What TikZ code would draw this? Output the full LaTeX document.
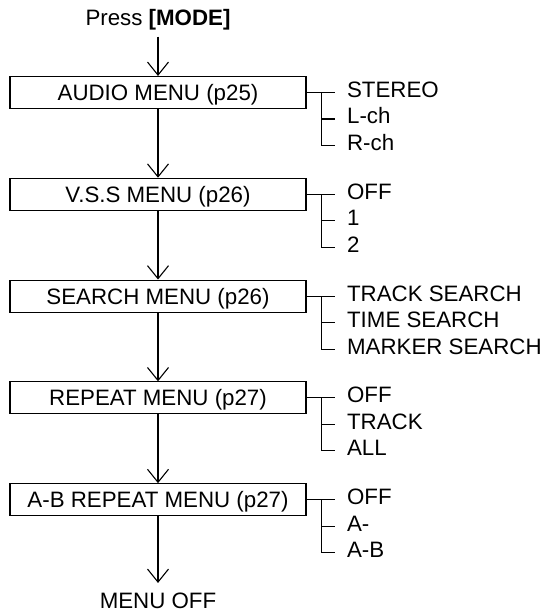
\documentclass[tikz,border=0pt]{standalone}
\usepackage{fontspec}
\setmainfont{Liberation Sans}
\usetikzlibrary{arrows.meta, positioning}

\begin{document}
\begin{tikzpicture}[
    every node/.style={font=\fontsize{11.15pt}{13pt}\selectfont},
    line width=0.55pt,
    node distance=34.35pt,
    box/.style={rectangle, draw, minimum width=148pt, minimum height=16pt, inner sep=0pt, text height=8pt, text depth=0pt},
    opt/.style={anchor=west, inner xsep=6pt, inner ysep=0pt, text height=6.5pt, text depth=1.5pt},
    endtext/.style={inner xsep=0pt, text height=8pt, text depth=0pt},
    arrow/.style={-{Straight Barb[length=6.5pt, width=10.5pt]}}
  ]

  \useasboundingbox (0,0) rectangle (278pt,-306.5pt);

  % menu chain
  \node[box] (audio) at (79pt,-46.25pt) {AUDIO MENU (p25)};
  \node[box, below=of audio] (vss) {V.S.S MENU (p26)};
  \node[box, below=of vss] (search) {SEARCH MENU (p26)};
  \node[box, below=of search] (repeat) {REPEAT MENU (p27)};
  \node[box, below=of repeat] (abrepeat) {A-B REPEAT MENU (p27)};

  \node[endtext, inner ysep=5.1pt, above=19.65pt of audio] (press) {Press \textbf{[MODE]}};
  \node[endtext, inner ysep=4.25pt, below=33.35pt of abrepeat] (menuoff) {MENU OFF};

  \draw[arrow] (press) -- (audio);
  \draw[arrow] (audio) -- (vss);
  \draw[arrow] (vss) -- (search);
  \draw[arrow] (search) -- (repeat);
  \draw[arrow] (repeat) -- (abrepeat);
  \draw[arrow] (abrepeat) -- (menuoff);

  % audio
  \node[opt, right=14pt of audio.east] (stereo) {STEREO};
  \node[opt, below=13.25pt of stereo.west, anchor=west] (lch) {L-ch};
  \node[opt, below=13.25pt of lch.west, anchor=west] (rch) {R-ch};
  \coordinate[right=7.5pt of audio.east] (audiofork);
  \draw (audio.east) -- (stereo.west);
  \draw (audiofork) |- (rch.west);
  \draw (lch.west) -- (lch.west -| audiofork);

  % v.s.s
  \node[opt, right=14pt of vss.east] (vssoff) {OFF};
  \node[opt, below=13.25pt of vssoff.west, anchor=west] (vssone) {1};
  \node[opt, below=13.25pt of vssone.west, anchor=west] (vsstwo) {2};
  \coordinate[right=7.5pt of vss.east] (vssfork);
  \draw (vss.east) -- (vssoff.west);
  \draw (vssfork) |- (vsstwo.west);
  \draw (vssone.west) -- (vssone.west -| vssfork);

  % search
  \node[opt, right=14pt of search.east] (tracksearch) {TRACK SEARCH};
  \node[opt, below=13.25pt of tracksearch.west, anchor=west] (timesearch) {TIME SEARCH};
  \node[opt, below=13.25pt of timesearch.west, anchor=west] (markersearch) {MARKER SEARCH};
  \coordinate[right=7.5pt of search.east] (searchfork);
  \draw (search.east) -- (tracksearch.west);
  \draw (searchfork) |- (markersearch.west);
  \draw (timesearch.west) -- (timesearch.west -| searchfork);

  % repeat
  \node[opt, right=14pt of repeat.east] (repoff) {OFF};
  \node[opt, below=13.25pt of repoff.west, anchor=west] (reptrack) {TRACK};
  \node[opt, below=13.25pt of reptrack.west, anchor=west] (repall) {ALL};
  \coordinate[right=7.5pt of repeat.east] (repfork);
  \draw (repeat.east) -- (repoff.west);
  \draw (repfork) |- (repall.west);
  \draw (reptrack.west) -- (reptrack.west -| repfork);

  % a-b repeat
  \node[opt, right=14pt of abrepeat.east] (aboff) {OFF};
  \node[opt, below=13.25pt of aboff.west, anchor=west] (aba) {A-};
  \node[opt, below=13.25pt of aba.west, anchor=west] (abab) {A-B};
  \coordinate[right=7.5pt of abrepeat.east] (abfork);
  \draw (abrepeat.east) -- (aboff.west);
  \draw (abfork) |- (abab.west);
  \draw (aba.west) -- (aba.west -| abfork);

\end{tikzpicture}
\end{document}
